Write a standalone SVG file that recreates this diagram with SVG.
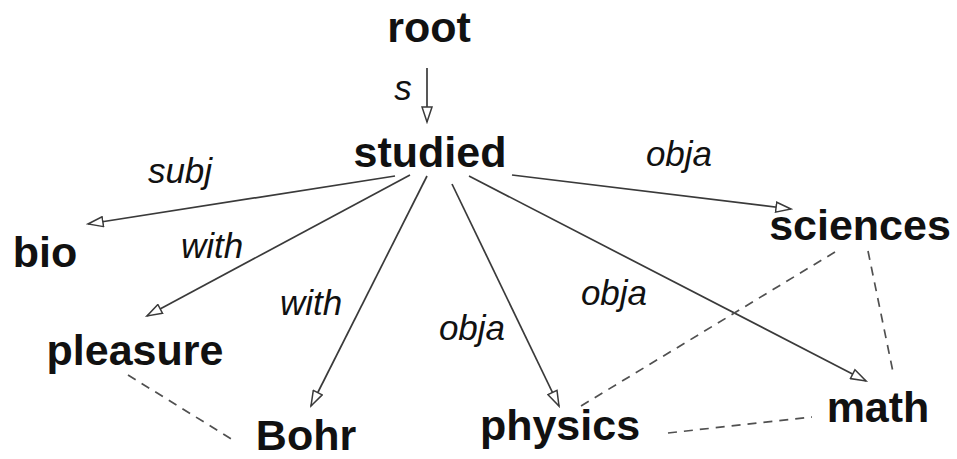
<svg xmlns="http://www.w3.org/2000/svg" width="957" height="459" viewBox="0 0 957 459">
<style>
.node{font-family:"Liberation Sans",Arial,sans-serif;font-weight:bold;font-size:43px;fill:#111;text-anchor:middle}
.lbl{font-family:"Liberation Sans",Arial,sans-serif;font-style:italic;font-size:35px;fill:#111;text-anchor:middle}
.edge{stroke:#3a3a3a;stroke-width:1.7;fill:none;marker-end:url(#arr)}
.dash{stroke:#505050;stroke-width:1.7;fill:none;stroke-dasharray:9 7}
</style>
<defs>
<marker id="arr" markerUnits="userSpaceOnUse" markerWidth="18" markerHeight="12" refX="16" refY="6" orient="auto">
<path d="M1,1 L16,6 L1,11 Z" fill="#fff" stroke="#3a3a3a" stroke-width="1.5"/>
</marker>
</defs>
<g id="connectors">
<line class="edge" x1="427" y1="68" x2="427" y2="122"/>
<line class="edge" x1="395" y1="176" x2="88" y2="224"/>
<line class="edge" x1="410" y1="175" x2="147" y2="316"/>
<line class="edge" x1="427" y1="176" x2="311" y2="406"/>
<line class="edge" x1="452" y1="184" x2="559" y2="406"/>
<line class="edge" x1="469" y1="176" x2="866" y2="381"/>
<line class="edge" x1="512" y1="175" x2="791" y2="209"/>
<line class="dash" x1="835" y1="252" x2="576" y2="409"/>
<line class="dash" x1="868" y1="251" x2="893" y2="372"/>
<line class="dash" x1="668" y1="433" x2="812" y2="417"/>
<line class="dash" x1="128" y1="375" x2="233" y2="440"/>
<text class="lbl" x="403" y="100">s</text>
<text class="lbl" x="180" y="183">subj</text>
<text class="lbl" x="212" y="258">with</text>
<text class="lbl" x="311" y="315">with</text>
<text class="lbl" x="472" y="340">obja</text>
<text class="lbl" x="614" y="305">obja</text>
<text class="lbl" x="679" y="166">obja</text>
</g>
<g id="root"><text class="node" x="429" y="42">root</text></g>
<g id="studied"><text class="node" x="430" y="167">studied</text></g>
<g id="bio"><text class="node" x="45" y="267">bio</text></g>
<g id="pleasure"><text class="node" x="135" y="365">pleasure</text></g>
<g id="Bohr"><text class="node" x="306" y="450">Bohr</text></g>
<g id="physics"><text class="node" x="560" y="440">physics</text></g>
<g id="math"><text class="node" x="878" y="422">math</text></g>
<g id="sciences"><text class="node" x="860" y="240">sciences</text></g>
</svg>
